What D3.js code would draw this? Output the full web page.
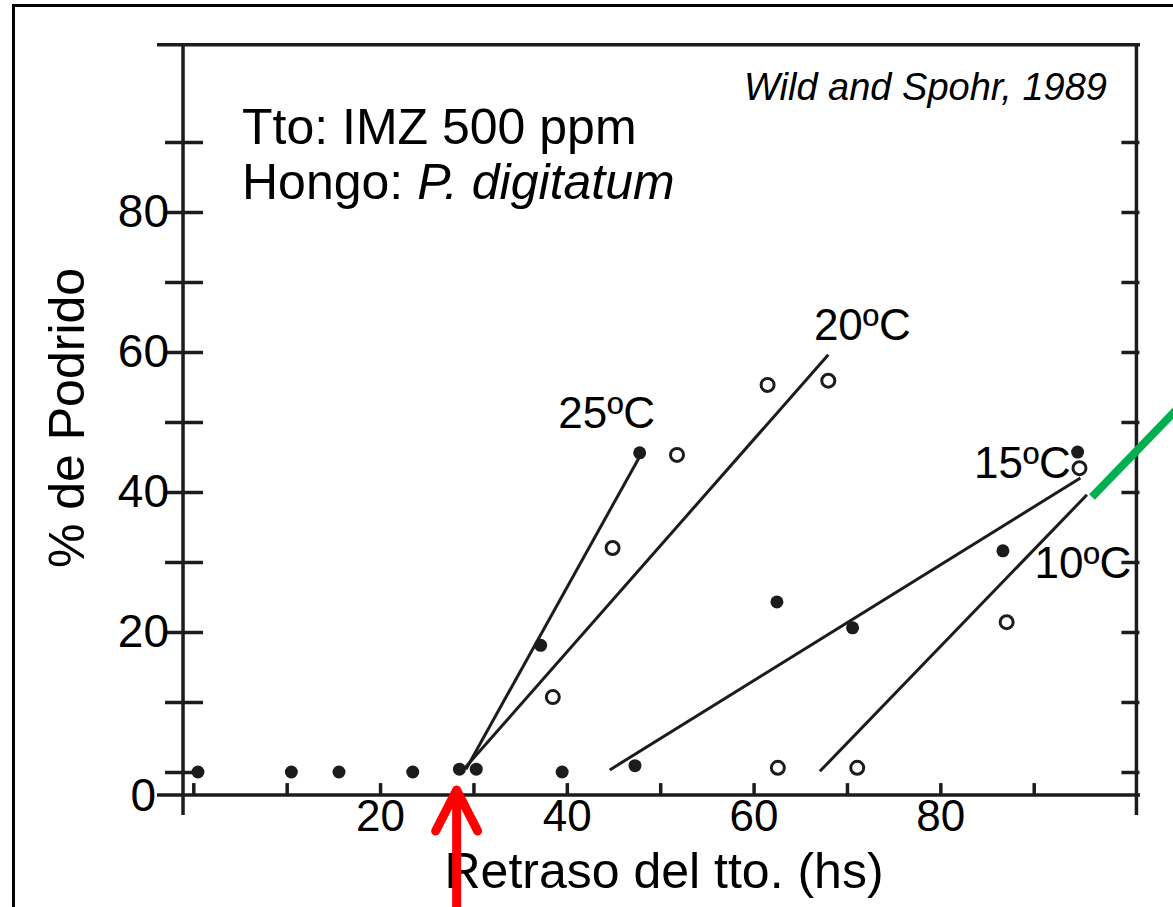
<!DOCTYPE html>
<html>
<head>
<meta charset="utf-8">
<script src="https://cdn.jsdelivr.net/npm/d3@7"></script>
<style>
body { margin: 0; background: #fff; }
text { font-family: "Liberation Sans", Arial, sans-serif; fill: #000; }
</style>
</head>
<body>
<div id="chart"></div>
<script>
// values
var filledX = [0.5, 10.5, 15.6, 23.5, 28.5, 30.3, 39.5, 47.3, 37.2, 47.8, 62.5, 70.6, 86.7, 94.7];
var filledY = [0, 0, 0, 0, 0.4, 0.4, 0, 0.9, 18.1, 45.6, 24.3, 20.6, 31.6, 45.7];
var openX = [38.5, 44.9, 51.8, 61.5, 68.0, 62.6, 71.1, 87.1, 94.9];
var openY = [10.7, 32.0, 45.3, 55.3, 55.9, 0.6, 0.6, 21.4, 43.4];

var lineLabels = ["25ºC", "20ºC", "15ºC", "10ºC"];
var lineStartX = [29.2, 28.9, 44.6, 67.1];
var lineStartY = [0.4, 0.3, 0.3, 0.1];
var lineEndX = [47.9, 68.0, 95.0, 95.7];
var lineEndY = [45.3, 59.6, 42.0, 39.6];

var yTicks = [20, 40, 60, 80];
var xTicks = [20, 40, 60, 80];
var minorTicks = d3.range(0, 100, 10);
var arrowAt = 28.2;

// label offsets from the end of each line (px)
var labelDx = [-34, 34, -58, -4];
var labelDy = [-42, -30, -15, 68];

var svg = d3.select("#chart").append("svg")
  .attr("width", 1173)
  .attr("height", 907);

var x = d3.scaleLinear().domain([0, 100]).range([193.3, 1127.1]);
var y = d3.scaleLinear().domain([0, 100]).range([772, 72]);

var ink = "#1c1c1c";

// outer frame of the slide
svg.append("rect")
  .attr("x", 13.5).attr("y", 5.5)
  .attr("width", 1300).attr("height", 1100)
  .attr("fill", "none").attr("stroke", "#000").attr("stroke-width", 3);

// box of the scanned plot
var boxLeft = x(-1.1), boxRight = x(101), boxTop = y(103.9), boxBottom = y(-3.3);
svg.append("line").attr("x1", 157).attr("x2", 1140).attr("y1", boxTop).attr("y2", boxTop)
  .attr("stroke", ink).attr("stroke-width", 3.5);
svg.append("line").attr("x1", 157).attr("x2", 1140).attr("y1", boxBottom).attr("y2", boxBottom)
  .attr("stroke", ink).attr("stroke-width", 3.5);
svg.append("line").attr("x1", boxLeft).attr("x2", boxLeft).attr("y1", boxTop).attr("y2", 815)
  .attr("stroke", ink).attr("stroke-width", 3.5);
svg.append("line").attr("x1", boxRight).attr("x2", boxRight).attr("y1", boxTop).attr("y2", 815)
  .attr("stroke", ink).attr("stroke-width", 3.5);

// tick marks
var leftTicks = svg.append("g")
  .attr("transform", "translate(" + (boxLeft + 20) + ",0)")
  .call(d3.axisLeft(y).tickValues(minorTicks).tickSize(38).tickFormat(""));
var rightTicks = svg.append("g")
  .attr("transform", "translate(" + (boxRight + 3) + ",0)")
  .call(d3.axisLeft(y).tickValues(minorTicks).tickSize(18).tickFormat(""));
var bottomTicks = svg.append("g")
  .attr("transform", "translate(0," + boxBottom + ")")
  .call(d3.axisTop(x).tickValues(minorTicks).tickSize(12).tickFormat(""));
[leftTicks, rightTicks, bottomTicks].forEach(function (g) {
  g.select(".domain").remove();
  g.selectAll(".tick line").attr("stroke", ink).attr("stroke-width", 3.5);
});

// tick labels
var yLab = svg.append("g")
  .attr("transform", "translate(169,0)")
  .call(d3.axisLeft(y).tickValues(yTicks).tickSize(0).tickPadding(0).tickFormat(d3.format("d")));
var xLab = svg.append("g")
  .attr("transform", "translate(0," + boxBottom + ")")
  .call(d3.axisBottom(x).tickValues(xTicks).tickSize(0).tickPadding(5).tickFormat(d3.format("d")));
[yLab, xLab].forEach(function (g) {
  g.select(".domain").remove();
  g.selectAll("text").attr("font-family", "Liberation Sans, Arial, sans-serif").attr("fill", "#000");
});
yLab.selectAll("text").attr("font-size", 46);
xLab.selectAll("text").attr("font-size", 44);
svg.append("text")
  .attr("x", 156).attr("y", boxBottom).attr("dy", "0.35em")
  .attr("text-anchor", "end").attr("font-size", 46)
  .text("0");

// fitted lines
var fits = svg.append("g");
lineLabels.forEach(function (lab, i) {
  fits.append("line")
    .attr("x1", x(lineStartX[i])).attr("y1", y(lineStartY[i]))
    .attr("x2", x(lineEndX[i])).attr("y2", y(lineEndY[i]))
    .attr("stroke", ink).attr("stroke-width", 3);
  fits.append("text")
    .attr("x", x(lineEndX[i]) + labelDx[i])
    .attr("y", y(lineEndY[i]) + labelDy[i])
    .attr("dy", "0.35em")
    .attr("text-anchor", "middle")
    .attr("font-size", 44)
    .text(lab);
});

// points
svg.append("g").selectAll("circle")
  .data(d3.zip(filledX, filledY))
  .enter().append("circle")
  .attr("cx", function (d) { return x(d[0]); })
  .attr("cy", function (d) { return y(d[1]); })
  .attr("r", 6.5)
  .attr("fill", ink);
svg.append("g").selectAll("circle")
  .data(d3.zip(openX, openY))
  .enter().append("circle")
  .attr("cx", function (d) { return x(d[0]); })
  .attr("cy", function (d) { return y(d[1]); })
  .attr("r", 6.5)
  .attr("fill", "#fff")
  .attr("stroke", ink)
  .attr("stroke-width", 3);

// texts
var info = svg.append("text").attr("x", 242).attr("y", 144).attr("font-size", 50);
info.text("Tto: IMZ 500 ppm");
var fungus = svg.append("text").attr("x", 242).attr("y", 199).attr("font-size", 50);
fungus.append("tspan").text("Hongo: ");
fungus.append("tspan").attr("font-style", "italic").text("P. digitatum");

svg.append("text")
  .attr("x", 1107).attr("y", 100)
  .attr("text-anchor", "end")
  .attr("font-size", 38)
  .attr("font-style", "italic")
  .text("Wild and Spohr, 1989");

svg.append("text")
  .attr("transform", "translate(66,418) rotate(-90)")
  .attr("text-anchor", "middle")
  .attr("dy", "0.35em")
  .attr("font-size", 50)
  .text("% de Podrido");

svg.append("text")
  .attr("x", 664).attr("y", 870)
  .attr("dy", "0.35em")
  .attr("text-anchor", "middle")
  .attr("font-size", 50)
  .text("Retraso del tto. (hs)");

// green pointer
svg.append("line")
  .attr("x1", 1092).attr("y1", 497)
  .attr("x2", 1180).attr("y2", 406)
  .attr("stroke", "#00b050").attr("stroke-width", 8);

// red arrow
var ax = x(arrowAt);
svg.append("line")
  .attr("x1", ax).attr("x2", ax).attr("y1", 920).attr("y2", 792)
  .attr("stroke", "#ff0000").attr("stroke-width", 9);
svg.append("path")
  .attr("d", "M" + (ax - 21) + ",831L" + ax + ",790L" + (ax + 21) + ",831")
  .attr("fill", "none")
  .attr("stroke", "#ff0000").attr("stroke-width", 9)
  .attr("stroke-linecap", "round").attr("stroke-linejoin", "round");
</script>
</body>
</html>
